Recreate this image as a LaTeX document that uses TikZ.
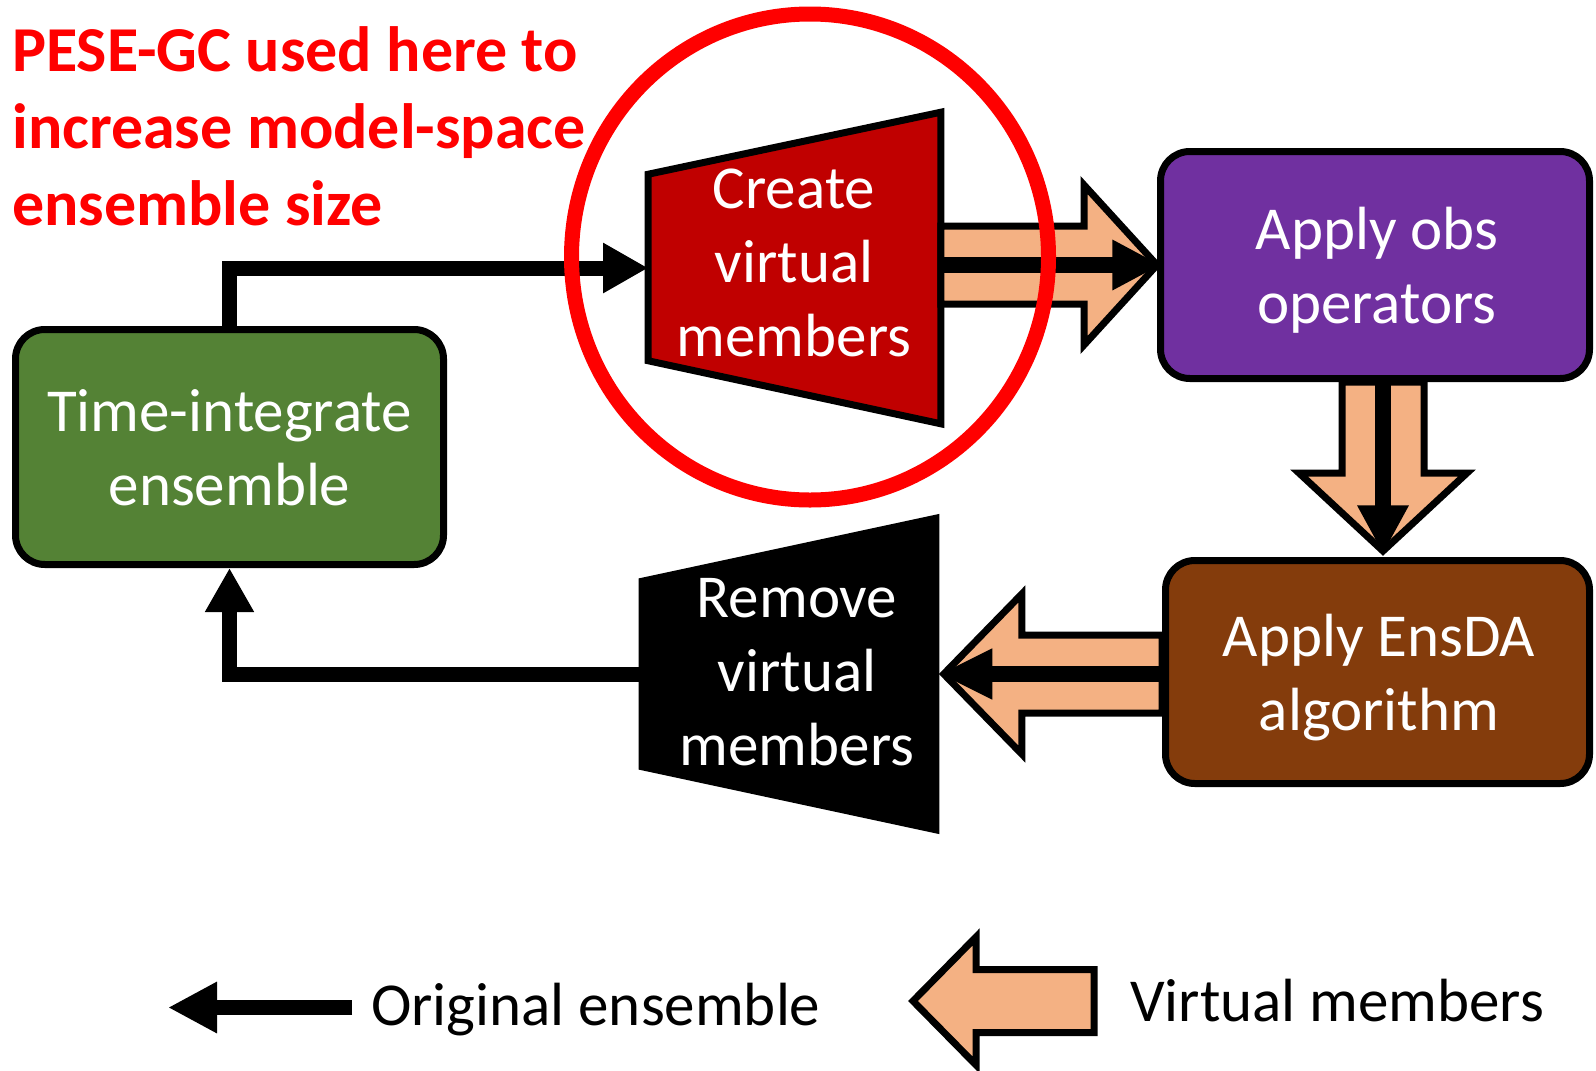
\documentclass[tikz,border=0pt]{standalone}
\usepackage{fontspec}
\setmainfont{Carlito}
\usetikzlibrary{arrows.meta,calc}
\definecolor{tgreen}{HTML}{548235}
\definecolor{tpurple}{HTML}{7030A0}
\definecolor{tbrown}{HTML}{843C0C}
\definecolor{tdred}{HTML}{C00000}
\definecolor{vorange}{HTML}{F4B183}
\begin{document}
\begin{tikzpicture}[x=0.75pt,y=-0.75pt,
  box/.style={draw=black, line width=5.25pt, rounded corners=22pt, inner sep=0pt},
  trapnode/.style={draw=none, inner sep=0pt},
  trap/.style={draw=black, line width=5.25pt, line join=miter},
  lbl/.style={text=white, font=\fontsize{45.75pt}{55.5pt}\selectfont, align=center, inner sep=0pt},
  leg/.style={text=black, font=\fontsize{45.75pt}{55.5pt}\selectfont, inner sep=0pt},
  blk/.style={draw=black, line width=11.25pt, line join=miter},
  fat/.style={draw=black, fill=vorange, line width=5.25pt, line join=miter},
  inner/.style={draw=black, line width=12pt}
]
\useasboundingbox (0,0) rectangle (1596,1071);

% boxes
\node[box, fill=tgreen, minimum width=321pt, minimum height=176.25pt] (tie) at (229.5,447) {};
\node[box, fill=tpurple, minimum width=321.75pt, minimum height=170.25pt] (obs) at (1375,265) {};
\node[box, fill=tbrown, minimum width=318pt, minimum height=167.25pt] (ensda) at (1377.5,672) {};

% trapezoids
\node[trapnode, minimum width=219pt, minimum height=233.25pt] (create) at (794.5,268) {};
\filldraw[trap, fill=tdred] ($(create.north west)+(0,62)$) -- (create.north east) -- (create.south east) -- ($(create.south west)+(0,-63)$) -- cycle;
\node[trapnode, minimum width=219.75pt, minimum height=233.25pt] (remove) at (789,674) {};
\filldraw[trap, fill=black] ($(remove.north west)+(0,63)$) -- (remove.north east) -- (remove.south east) -- ($(remove.south west)+(0,-63)$) -- cycle;

% labels (base anchor = baseline of last line)
\node[lbl, anchor=base] (tielbl) at (229.5,505) {Time-integrate\\ensemble};
\node[lbl, anchor=base] (createlbl) at (794,356) {Create\\virtual\\members};
\node[lbl, anchor=base] (removelbl) at (797,765) {Remove\\virtual\\members};
\node[lbl, anchor=base] (obslbl) at (1377,323) {Apply obs\\operators};
\node[lbl, anchor=base] (ensdalbl) at (1379,730) {Apply EnsDA\\algorithm};

% original-ensemble connectors
\draw[blk, -{Triangle[length=33.75pt, width=35.25pt]}] (tie.north) |- (create.west);
\draw[blk, -{Triangle[length=33pt, width=34.5pt]}] (remove.west) -| (tie.south);

% create -> obs
\coordinate (a1s) at (create.east |- obs.west);
\coordinate (a1e) at (obs.west);
\filldraw[fat] ($(a1s)+(0,-39)$) -- ($(a1e)+(-73,-39)$) -- ($(a1e)+(-73,-80)$) -- (a1e) -- ($(a1e)+(-73,80)$) -- ($(a1e)+(-73,39)$) -- ($(a1s)+(0,39)$) -- cycle;
\draw[inner, -{Triangle[length=36.4pt, width=35.25pt]}] (a1s) -- ($(a1e)+(4,0)$);

% obs -> ensda
\coordinate (a2s) at ($(obs.south)+(8,0)$);
\coordinate (a2e) at ($(ensda.north)+(5.5,-6)$);
\filldraw[fat] ($(a2s)+(-41,0)$) -- ($(a2e)+(-41,-78)$) -- ($(a2e)+(-84,-78)$) -- (a2e) -- ($(a2e)+(84,-78)$) -- ($(a2e)+(41,-78)$) -- ($(a2s)+(41,0)$) -- cycle;
\draw[inner, -{Triangle[length=36.4pt, width=36pt]}] (a2s) -- ($(a2e)+(0,3)$);

% ensda -> remove
\coordinate (a3s) at (ensda.west |- remove.east);
\coordinate (a3e) at ($(remove.east)+(8,0)$);
\filldraw[fat] ($(a3s)+(0,-39)$) -- ($(a3e)+(78,-39)$) -- ($(a3e)+(78,-80)$) -- (a3e) -- ($(a3e)+(78,80)$) -- ($(a3e)+(78,39)$) -- ($(a3s)+(0,39)$) -- cycle;
\draw[inner, -{Triangle[length=39.75pt, width=35.25pt]}] (a3s) -- ($(remove.east)+(3.5,0)$);

% red annotation
\draw[red, line width=11.25pt] (810,257) ellipse [x radius=238.5, y radius=243];
\node[anchor=base west, text=red, font=\bfseries\fontsize{48pt}{57.4pt}\selectfont, align=left, inner sep=0pt] (note) at (12,225) {PESE-GC used here to\\increase model-space\\ensemble size};

% legend
\coordinate (lg1s) at (352,1007.5);
\coordinate (lg1e) at (168,1007.5);
\draw[blk, -{Triangle[length=36.75pt, width=36pt]}] (lg1s) -- (lg1e);
\node[leg, anchor=base west] (lg1t) at (371,1025) {Original ensemble};
\filldraw[fat] (1094,969.5) -- (976,969.5) -- (976,937) -- (913,1001) -- (976,1065) -- (976,1032.5) -- (1094,1032.5) -- cycle;
\node[leg, anchor=base west] (lg2t) at (1130,1021) {Virtual members};
\end{tikzpicture}
\end{document}
